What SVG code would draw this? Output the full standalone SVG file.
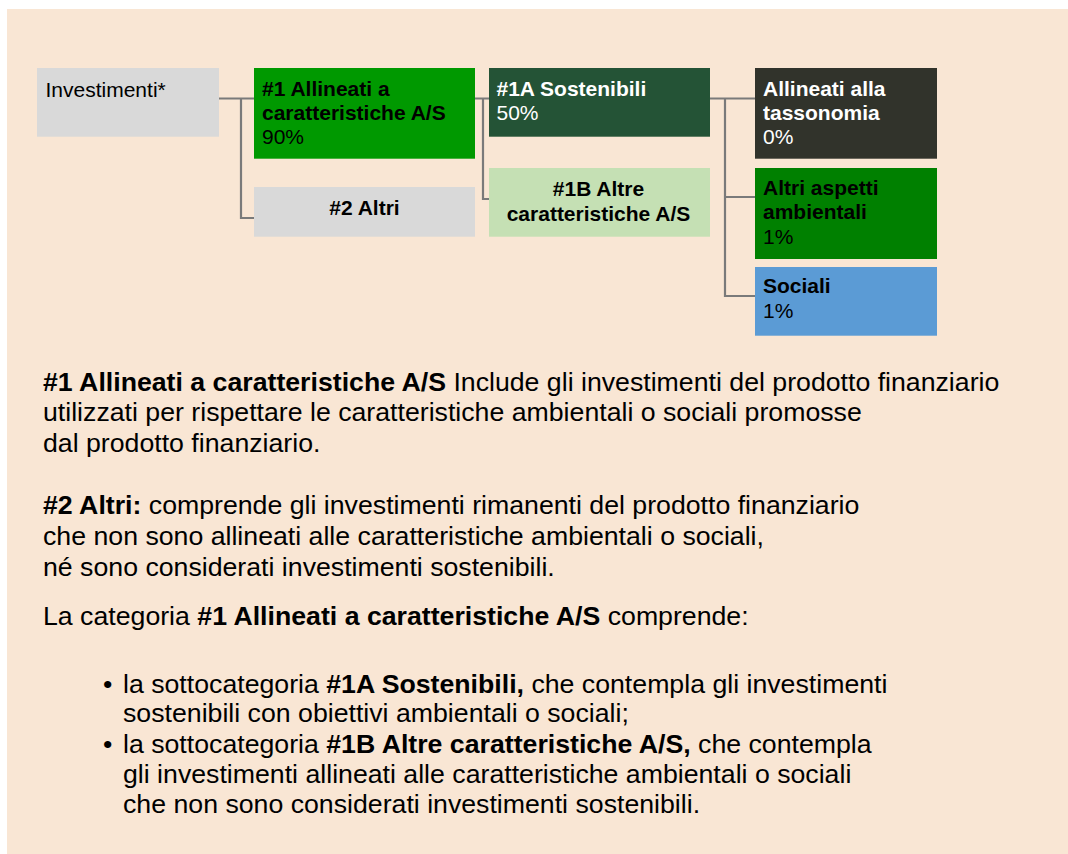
<svg xmlns="http://www.w3.org/2000/svg" width="1068" height="854" viewBox="0 0 1068 854">
<style>
text{font-family:"Liberation Sans",Arial,sans-serif;fill:#000}
.n{font-size:21px}
.b{font-weight:bold}
.w{fill:#fff}
.c{text-anchor:middle}
.t{font-size:26.7px}
.conn path{fill:none;stroke:#7a7a7a;stroke-width:2.2}
</style>
<rect x="0" y="0" width="1068" height="854" fill="#ffffff"/>
<rect x="7" y="9" width="1061" height="845" fill="#f9e6d4"/>
<g class="conn" id="connectors">
<path d="M219,98.5 H254 M241,98.5 V218 H254"/>
<path d="M475,98.5 H489 M483,98.5 V199 H489"/>
<path d="M710,98.5 H755 M725,98.5 V296 H755 M725,197 H755"/>
</g>
<g id="investimenti">
<rect x="37" y="68" width="182" height="68.7" fill="#d9d9d9"/>
<text class="n" x="45.5" y="96.5">Investimenti*</text>
</g>
<g id="n1">
<rect x="254" y="68" width="221" height="90.7" fill="#009900"/>
<text class="n b" x="262" y="96">#1 Allineati a</text>
<text class="n b" x="262" y="120">caratteristiche A/S</text>
<text class="n" x="262" y="144">90%</text>
</g>
<g id="n2">
<rect x="254" y="187" width="221" height="49.7" fill="#d9d9d9"/>
<text class="n b c" x="364.5" y="214.5">#2 Altri</text>
</g>
<g id="n1a">
<rect x="489" y="68" width="221" height="68.7" fill="#245336"/>
<text class="n b w" x="496.5" y="95.5">#1A Sostenibili</text>
<text class="n w" x="496.5" y="120">50%</text>
</g>
<g id="n1b">
<rect x="489" y="168" width="221" height="68.7" fill="#c5e0b4"/>
<text class="n b c" x="598.5" y="195.5">#1B Altre</text>
<text class="n b c" x="598.5" y="220.5">caratteristiche A/S</text>
</g>
<g id="tassonomia">
<rect x="755" y="68" width="182" height="90.7" fill="#31332b"/>
<text class="n b w" x="763" y="95.5">Allineati alla</text>
<text class="n b w" x="763" y="120">tassonomia</text>
<text class="n w" x="763" y="144">0%</text>
</g>
<g id="ambientali">
<rect x="755" y="168" width="182" height="91" fill="#008000"/>
<text class="n b" x="763" y="195">Altri aspetti</text>
<text class="n b" x="763" y="219">ambientali</text>
<text class="n" x="763" y="244">1%</text>
</g>
<g id="sociali">
<rect x="755" y="267" width="182" height="68.7" fill="#5b9bd5"/>
<text class="n b" x="763" y="293">Sociali</text>
<text class="n" x="763" y="318">1%</text>
</g>
<g id="legend">
<text class="t" x="43" y="391"><tspan class="b">#1 Allineati a caratteristiche A/S</tspan> Include gli investimenti del prodotto finanziario</text>
<text class="t" x="43" y="421">utilizzati per rispettare le caratteristiche ambientali o sociali promosse</text>
<text class="t" x="43" y="452">dal prodotto finanziario.</text>
<text class="t" x="43" y="514"><tspan class="b">#2 Altri:</tspan> comprende gli investimenti rimanenti del prodotto finanziario</text>
<text class="t" x="43" y="545">che non sono allineati alle caratteristiche ambientali o sociali,</text>
<text class="t" x="43" y="576">né sono considerati investimenti sostenibili.</text>
<text class="t" x="43" y="625">La categoria <tspan class="b">#1 Allineati a caratteristiche A/S</tspan> comprende:</text>
<text class="t" x="103" y="693">•</text>
<text class="t" x="123" y="693">la sottocategoria <tspan class="b">#1A Sostenibili,</tspan> che contempla gli investimenti</text>
<text class="t" x="123" y="722">sostenibili con obiettivi ambientali o sociali;</text>
<text class="t" x="103" y="753">•</text>
<text class="t" x="123" y="753">la sottocategoria <tspan class="b">#1B Altre caratteristiche A/S,</tspan> che contempla</text>
<text class="t" x="123" y="783">gli investimenti allineati alle caratteristiche ambientali o sociali</text>
<text class="t" x="123" y="813">che non sono considerati investimenti sostenibili.</text>
</g>
</svg>
